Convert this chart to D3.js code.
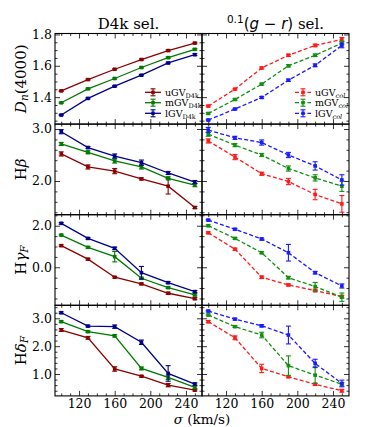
<!DOCTYPE html>
<html>
<head>
<meta charset="utf-8">
<script src="https://cdn.jsdelivr.net/npm/d3@7"></script>
<style>
  body { margin: 0; background: #fff; }
  text { font-family: "DejaVu Serif", serif; fill: #000; }
</style>
</head>
<body>
<div id="chart"></div>
<script>
// velocity dispersion bins
const sigma = [100, 130, 160, 190, 220, 250];
const xTicks = [120, 160, 200, 240];
const names = ["uGV", "mGV", "lGV"];

// Dn(4000)  -- [uGV, mGV, lGV]
const dnD4k = [[1.44, 1.512, 1.578, 1.64, 1.697, 1.745],
               [1.364, 1.453, 1.519, 1.589, 1.652, 1.705],
               [1.286, 1.392, 1.47, 1.54, 1.618, 1.671]];
const dnD4kErr = [[0.004, 0.004, 0.004, 0.004, 0.005, 0.005],
                  [0.004, 0.004, 0.004, 0.004, 0.005, 0.005],
                  [0.004, 0.004, 0.004, 0.004, 0.005, 0.006]];
const dnCol = [[1.343, 1.451, 1.586, 1.667, 1.73, 1.768],
               [1.296, 1.385, 1.483, 1.6, 1.667, 1.745],
               [1.254, 1.324, 1.398, 1.508, 1.603, 1.73]];
const dnColErr = [[0.005, 0.005, 0.006, 0.007, 0.008, 0.012],
                  [0.005, 0.005, 0.006, 0.007, 0.008, 0.012],
                  [0.005, 0.005, 0.006, 0.007, 0.009, 0.015]];

// H beta
const hbD4k = [[2.52, 2.27, 2.19, 2.04, 1.9, 1.49],
               [2.712, 2.552, 2.385, 2.27, 2.051, 1.92],
               [2.948, 2.643, 2.48, 2.353, 2.154, 1.98]];
const hbD4kErr = [[0.04, 0.04, 0.05, 0.02, 0.15, 0.02],
                  [0.03, 0.03, 0.04, 0.04, 0.03, 0.03],
                  [0.04, 0.02, 0.04, 0.05, 0.03, 0.03]];
const hbCol = [[2.77, 2.46, 2.14, 1.99, 1.74, 1.56],
               [2.9, 2.69, 2.5, 2.24, 2.06, 1.9],
               [2.98, 2.83, 2.74, 2.5, 2.29, 2.02]];
const hbColErr = [[0.04, 0.05, 0.03, 0.06, 0.1, 0.16],
                  [0.04, 0.03, 0.03, 0.05, 0.06, 0.1],
                  [0.05, 0.03, 0.05, 0.05, 0.08, 0.1]];

// H gamma_F
const hgD4k = [[1.04, 0.39, -0.48, -0.8, -1.25, -1.51],
               [1.55, 0.96, 0.51, -0.53, -0.98, -1.33],
               [2.115, 1.39, 0.91, -0.26, -0.74, -1.17]];
const hgD4kErr = [[0.04, 0.04, 0.04, 0.04, 0.05, 0.05],
                  [0.04, 0.04, 0.25, 0.05, 0.04, 0.05],
                  [0.04, 0.04, 0.06, 0.3, 0.05, 0.05]];
const hgCol = [[1.66, 0.87, -0.48, -0.85, -1.12, -1.41],
               [2.0, 1.39, 0.7, -0.5, -0.93, -1.44],
               [2.27, 1.83, 1.36, 0.7, -0.26, -0.9]];
const hgColErr = [[0.04, 0.05, 0.06, 0.05, 0.06, 0.06],
                  [0.04, 0.04, 0.05, 0.06, 0.2, 0.2],
                  [0.04, 0.04, 0.05, 0.4, 0.06, 0.1]];

// H delta_F
const hdD4k = [[2.58, 2.3, 1.18, 0.92, 0.6, 0.42],
               [2.88, 2.52, 2.37, 1.2, 0.88, 0.52],
               [3.2, 2.72, 2.7, 2.14, 1.02, 0.64]];
const hdD4kErr = [[0.05, 0.05, 0.08, 0.03, 0.06, 0.03],
                  [0.03, 0.03, 0.04, 0.05, 0.08, 0.05],
                  [0.03, 0.03, 0.06, 0.08, 0.28, 0.04]];
const hdCol = [[2.88, 2.3, 1.2, 0.9, 0.63, 0.4],
               [3.12, 2.7, 2.4, 1.3, 0.96, 0.63],
               [3.26, 2.97, 2.73, 2.4, 1.38, 0.66]];
const hdColErr = [[0.04, 0.07, 0.15, 0.03, 0.04, 0.05],
                  [0.03, 0.03, 0.1, 0.35, 0.3, 0.06],
                  [0.03, 0.03, 0.04, 0.32, 0.15, 0.12]];

// y ticks per row
const dnTicks = [1.4, 1.6, 1.8];
const hbTicks = [2.0, 3.0];
const hgTicks = [0.0, 2.0];
const hdTicks = [1.0, 2.0, 3.0];

const colorsD4k = ["#8b0000", "#007a00", "#00008b"];
const colorsCol = ["#ff1a1a", "#109010", "#1a1aff"];

const rows = [
  { data: [dnD4k, dnCol], err: [dnD4kErr, dnColErr], domain: [1.228, 1.806], ticks: dnTicks, minor: 0.05, label: "dn" },
  { data: [hbD4k, hbCol], err: [hbD4kErr, hbColErr], domain: [1.352, 3.094], ticks: hbTicks, minor: 0.2, label: "hb" },
  { data: [hgD4k, hgCol], err: [hgD4kErr, hgColErr], domain: [-1.83, 2.53], ticks: hgTicks, minor: 0.5, label: "hg" },
  { data: [hdD4k, hdCol], err: [hdD4kErr, hdColErr], domain: [0.214, 3.467], ticks: hdTicks, minor: 0.2, label: "hd" }
];

const width = 374, height = 427;
const pL = 55, pM = 202, pR = 349, pT = 33.5, rowH = 90.6;

const svg = d3.select("#chart").append("svg")
    .attr("width", width)
    .attr("height", height);

const xScales = [
  d3.scaleLinear().domain([93, 258]).range([pL, pM]),
  d3.scaleLinear().domain([93, 258]).range([pM, pR])
];
const xMinor = d3.range(100, 260, 10).filter(v => !xTicks.includes(v));

function styleAxis(g) {
  g.select(".domain").remove();
  g.selectAll(".tick line").attr("stroke", "#000").attr("stroke-width", 0.8);
  g.selectAll(".tick text").attr("font-family", "DejaVu Serif").attr("font-size", 12.5).attr("fill", "#000");
}

rows.forEach((row, r) => {
  const y = d3.scaleLinear().domain(row.domain).range([pT + (r + 1) * rowH, pT + r * rowH]);
  const fmt = d3.format(".1f");
  const lo = Math.ceil(row.domain[0] / row.minor - 1e-6);
  const hi = Math.floor(row.domain[1] / row.minor + 1e-6);
  const yMinor = d3.range(lo, hi + 1).map(k => +(k * row.minor).toFixed(3))
      .filter(v => !row.ticks.some(t => Math.abs(t - v) < 1e-6));

  [0, 1].forEach(c => {
    const x = xScales[c];
    const g = svg.append("g");
    const y0 = y.range()[0], y1 = y.range()[1];

    // ticks, all four sides, pointing inward
    g.append("g").attr("transform", `translate(0,${y0})`)
      .call(d3.axisBottom(x).tickValues(xTicks).tickSize(-5).tickPadding(3.5)
        .tickFormat(r === 3 ? d3.format("d") : "")).call(styleAxis);
    g.append("g").attr("transform", `translate(0,${y0})`)
      .call(d3.axisBottom(x).tickValues(xMinor).tickSize(-2.5).tickFormat("")).call(styleAxis);
    g.append("g").attr("transform", `translate(0,${y1})`)
      .call(d3.axisTop(x).tickValues(xTicks).tickSize(-5).tickFormat("")).call(styleAxis);
    g.append("g").attr("transform", `translate(0,${y1})`)
      .call(d3.axisTop(x).tickValues(xMinor).tickSize(-2.5).tickFormat("")).call(styleAxis);
    g.append("g").attr("transform", `translate(${x.range()[0]},0)`)
      .call(d3.axisLeft(y).tickValues(row.ticks).tickSize(-5).tickPadding(3)
        .tickFormat(c === 0 ? fmt : "")).call(styleAxis);
    g.append("g").attr("transform", `translate(${x.range()[0]},0)`)
      .call(d3.axisLeft(y).tickValues(yMinor).tickSize(-2.5).tickFormat("")).call(styleAxis);
    g.append("g").attr("transform", `translate(${x.range()[1]},0)`)
      .call(d3.axisRight(y).tickValues(row.ticks).tickSize(-5).tickFormat("")).call(styleAxis);
    g.append("g").attr("transform", `translate(${x.range()[1]},0)`)
      .call(d3.axisRight(y).tickValues(yMinor).tickSize(-2.5).tickFormat("")).call(styleAxis);

    // frame
    g.append("rect")
      .attr("x", x.range()[0]).attr("y", y1)
      .attr("width", x.range()[1] - x.range()[0]).attr("height", y0 - y1)
      .attr("fill", "none").attr("stroke", "#000").attr("stroke-width", 1.1);

    const colors = c === 0 ? colorsD4k : colorsCol;
    const line = d3.line().x((d, i) => x(sigma[i])).y(d => y(d));

    row.data[c].forEach((vals, s) => {
      const errs = row.err[c][s];
      const col = colors[s];
      const sg = g.append("g");
      sg.append("path")
        .attr("d", line(vals))
        .attr("fill", "none")
        .attr("stroke", col)
        .attr("stroke-width", 1.3)
        .attr("stroke-dasharray", c === 1 ? "4,2.2" : null);
      vals.forEach((v, i) => {
        const cx = x(sigma[i]);
        const ya = y(v - errs[i]), yb = y(v + errs[i]);
        sg.append("line").attr("x1", cx).attr("x2", cx).attr("y1", ya).attr("y2", yb)
          .attr("stroke", col).attr("stroke-width", 1.1);
        [ya, yb].forEach(yy => sg.append("line")
          .attr("x1", cx - 2.5).attr("x2", cx + 2.5).attr("y1", yy).attr("y2", yy)
          .attr("stroke", col).attr("stroke-width", 1.1));
        sg.append("rect")
          .attr("x", cx - 1.8).attr("y", y(v) - 1.8)
          .attr("width", 3.6).attr("height", 3.6)
          .attr("fill", col);
      });
    });

    // legend in the top row
    if (r === 0) {
      const lx = c === 0 ? 145 : 295;
      const ly = [92.3, 102.7, 113.3];
      const sub = c === 0 ? "D4k" : "col";
      names.forEach((nm, s) => {
        const col = colors[s];
        const lg = g.append("g");
        lg.append("line").attr("x1", lx).attr("x2", lx + 16).attr("y1", ly[s]).attr("y2", ly[s])
          .attr("stroke", col).attr("stroke-width", 1.3)
          .attr("stroke-dasharray", c === 1 ? "4,2.2" : null);
        lg.append("line").attr("x1", lx + 8).attr("x2", lx + 8).attr("y1", ly[s] - 3.5).attr("y2", ly[s] + 3.5)
          .attr("stroke", col).attr("stroke-width", 1.1);
        [-3.5, 3.5].forEach(dy => lg.append("line")
          .attr("x1", lx + 5.5).attr("x2", lx + 10.5).attr("y1", ly[s] + dy).attr("y2", ly[s] + dy)
          .attr("stroke", col).attr("stroke-width", 1.1));
        lg.append("rect").attr("x", lx + 6.3).attr("y", ly[s] - 1.7).attr("width", 3.4).attr("height", 3.4).attr("fill", col);
        const t = lg.append("text").attr("x", lx + 20).attr("y", ly[s] + 3.3).attr("font-size", 9.5);
        t.append("tspan").text(nm);
        t.append("tspan").attr("font-size", 6.5).attr("dy", 2)
          .attr("font-style", c === 1 ? "italic" : null).text(sub);
      });
    }
  });

  // y label
  const cy = pT + (r + 0.5) * rowH;
  const yl = svg.append("text")
    .attr("transform", `translate(21,${cy}) rotate(-90)`)
    .attr("text-anchor", "middle")
    .attr("dominant-baseline", "central")
    .attr("font-size", 15);
  if (row.label === "dn") {
    yl.append("tspan").attr("font-style", "italic").text("D");
    yl.append("tspan").attr("font-style", "italic").attr("font-size", 10.5).attr("dy", 3).text("n");
    yl.append("tspan").attr("dy", -3).text("(4000)");
  } else if (row.label === "hb") {
    yl.append("tspan").text("H");
    yl.append("tspan").attr("font-style", "italic").text("β");
  } else {
    yl.append("tspan").text("H");
    yl.append("tspan").attr("font-style", "italic").text(row.label === "hg" ? "γ" : "δ");
    yl.append("tspan").attr("font-style", "italic").attr("font-size", 10.5).attr("dy", 3).text("F");
  }
});

// column titles
svg.append("text")
  .attr("x", (pL + pM) / 2).attr("y", 29)
  .attr("text-anchor", "middle").attr("font-size", 15)
  .text("D4k sel.");

const t2 = svg.append("text")
  .attr("x", (pM + pR) / 2).attr("y", 29)
  .attr("text-anchor", "middle").attr("font-size", 15);
t2.append("tspan").attr("font-family", "DejaVu Sans").attr("font-size", 10.5).attr("dy", -6).text("0.1");
t2.append("tspan").attr("font-family", "DejaVu Sans").attr("dy", 6).text("(");
t2.append("tspan").attr("font-family", "DejaVu Sans").attr("font-style", "italic").text("g");
t2.append("tspan").attr("font-family", "DejaVu Sans").text(" − ");
t2.append("tspan").attr("font-family", "DejaVu Sans").attr("font-style", "italic").text("r");
t2.append("tspan").attr("font-family", "DejaVu Sans").text(")");
t2.append("tspan").text(" sel.");

// x label
const xl = svg.append("text")
  .attr("x", pM).attr("y", 423.5)
  .attr("text-anchor", "middle").attr("font-size", 13.5);
xl.append("tspan").attr("font-style", "italic").text("σ");
xl.append("tspan").text(" (km/s)");
</script>
</body>
</html>
